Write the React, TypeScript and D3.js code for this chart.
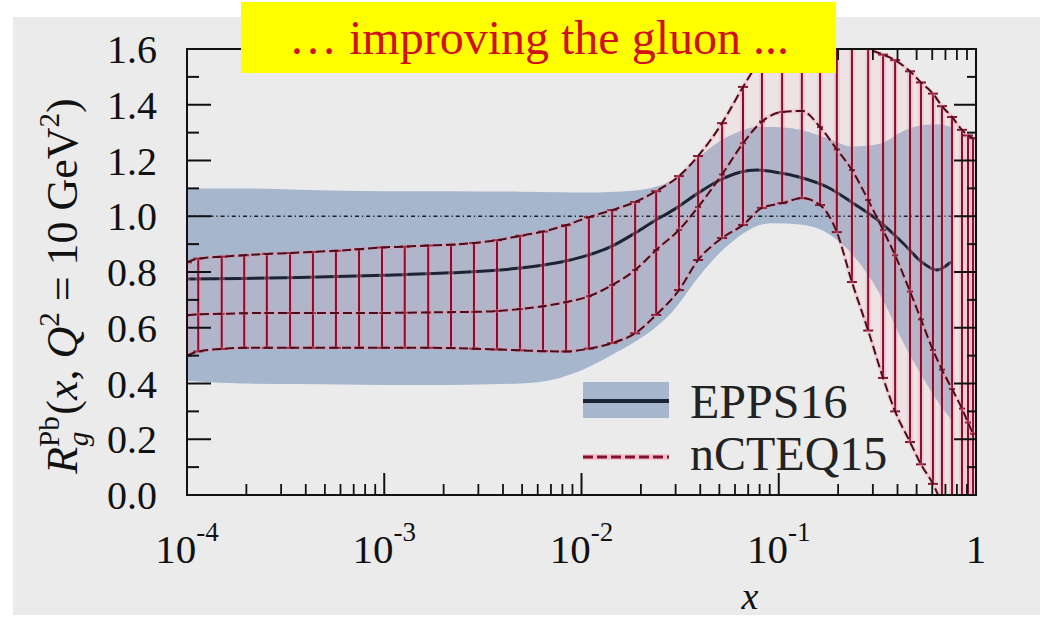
import React from "react";
import * as d3 from "d3";

// ---------------- DATA ----------------
// EPPS16 (central + uncertainty band)
const eppsX = [1e-4, 1.9e-4, 3.7e-4, 1e-3, 2.15e-3, 4.88e-3, 7.78e-3, 1.02e-2, 1.4e-2, 1.87e-2, 2.36e-2, 2.91e-2, 3.9e-2, 5.04e-2, 6.36e-2, 7.77e-2, 9.35e-2, 0.128, 0.176, 0.238, 0.326, 0.426, 0.539, 0.634, 0.747];
const eppsCentral = [0.775, 0.777, 0.78, 0.788, 0.797, 0.814, 0.835, 0.855, 0.89, 0.94, 0.985, 1.022, 1.083, 1.13, 1.158, 1.166, 1.16, 1.14, 1.105, 1.047, 0.98, 0.904, 0.832, 0.807, 0.836];
const eppsUpper = [1.1, 1.1, 1.095, 1.09, 1.09, 1.088, 1.086, 1.085, 1.087, 1.092, 1.105, 1.13, 1.21, 1.27, 1.305, 1.32, 1.32, 1.31, 1.28, 1.25, 1.26, 1.305, 1.327, 1.33, 1.32];
const eppsLower = [0.41, 0.4, 0.398, 0.395, 0.395, 0.4, 0.42, 0.45, 0.5, 0.55, 0.6, 0.66, 0.78, 0.87, 0.93, 0.965, 0.975, 0.97, 0.94, 0.86, 0.72, 0.55, 0.42, 0.34, 0.27];

// nCTEQ15 (central + error bars)
const ncteqX = [1.0e-4, 1.14e-4, 1.5e-4, 1.95e-4, 2.54e-4, 3.33e-4, 4.35e-4, 5.69e-4, 7.45e-4, 9.74e-4, 1.27e-3, 1.67e-3, 2.18e-3, 2.85e-3, 3.73e-3, 4.88e-3, 6.38e-3, 8.35e-3, 1.09e-2, 1.43e-2, 1.87e-2, 2.39e-2, 3.12e-2, 3.9e-2, 5.16e-2, 6.59e-2, 8.22e-2, 0.104, 0.131, 0.162, 0.197, 0.235, 0.284, 0.338, 0.389, 0.463, 0.526, 0.605, 0.672, 0.756, 0.849, 0.911, 0.966];
const ncteqUpper = [0.835, 0.848, 0.855, 0.86, 0.865, 0.868, 0.872, 0.876, 0.882, 0.888, 0.891, 0.895, 0.898, 0.904, 0.914, 0.93, 0.945, 0.968, 0.997, 1.022, 1.051, 1.09, 1.144, 1.216, 1.334, 1.464, 1.57, 1.64, 1.68, 1.69, 1.67, 1.635, 1.6, 1.58, 1.56, 1.52, 1.48, 1.44, 1.395, 1.356, 1.31, 1.29, 1.28];
const ncteqCentral = [0.645, 0.648, 0.65, 0.652, 0.653, 0.653, 0.653, 0.653, 0.653, 0.653, 0.654, 0.655, 0.656, 0.657, 0.66, 0.667, 0.677, 0.692, 0.713, 0.753, 0.807, 0.879, 0.951, 1.033, 1.15, 1.262, 1.34, 1.374, 1.378, 1.32, 1.24, 1.166, 1.058, 0.95, 0.86, 0.73, 0.63, 0.52, 0.45, 0.38, 0.31, 0.26, 0.22];
const ncteqLower = [0.5, 0.515, 0.524, 0.528, 0.528, 0.528, 0.528, 0.528, 0.528, 0.528, 0.528, 0.528, 0.527, 0.525, 0.522, 0.519, 0.516, 0.515, 0.525, 0.545, 0.58, 0.646, 0.735, 0.843, 0.922, 0.969, 1.03, 1.047, 1.065, 1.04, 0.943, 0.764, 0.59, 0.42, 0.3, 0.19, 0.11, 0.04, -0.03, -0.1, -0.16, -0.2, -0.24];

const yTicks = [0, 0.2, 0.4, 0.6, 0.8, 1.0, 1.2, 1.4, 1.6];
const yTickLabels = ["0.0", "0.2", "0.4", "0.6", "0.8", "1.0", "1.2", "1.4", "1.6"];
const yMinorTicks = [0.1, 0.3, 0.5, 0.7, 0.9, 1.1, 1.3, 1.5];
const xDecades = [1e-4, 1e-3, 1e-2, 1e-1, 1];
const xDecadeExps = ["-4", "-3", "-2", "-1", ""];
const minorMultipliers = [2, 3, 4, 5, 6, 7, 8, 9];

const titleText = "… improving the gluon ...";
const seriesNames = ["EPPS16", "nCTEQ15"];

// ---------------- LAYOUT ----------------
const W = 1053, H = 620;
const PL = 187, PR = 976, PT = 49, PB = 495;
const SERIF = "'Liberation Serif', 'DejaVu Serif', serif";
const BAND = "#a6b6cc";
const EPPS_LINE = "#1c2433";
const BAR = "#82102a";
const DASH = "#4a0c18";

export default function App() {
  const x = d3.scaleLog().domain([1e-4, 1]).range([PL, PR]);
  const y = d3.scaleLinear().domain([0, 1.6]).range([PB, PT]);

  const eIdx = d3.range(eppsX.length);
  const nIdx = d3.range(ncteqX.length);

  const band = d3.area<number>()
    .x((i) => x(eppsX[i]))
    .y0((i) => y(eppsLower[i]))
    .y1((i) => y(eppsUpper[i]))
    .curve(d3.curveMonotoneX)(eIdx) as string;
  const eppsLine = d3.line<number>()
    .x((i) => x(eppsX[i]))
    .y((i) => y(eppsCentral[i]))
    .curve(d3.curveMonotoneX)(eIdx) as string;

  const nFill = d3.area<number>()
    .x((i) => x(ncteqX[i]))
    .y0((i) => y(ncteqLower[i]))
    .y1((i) => y(ncteqUpper[i]))
    .curve(d3.curveMonotoneX)(nIdx) as string;
  const mk = (arr: number[]) =>
    d3.line<number>().x((i) => x(ncteqX[i])).y((i) => y(arr[i])).curve(d3.curveMonotoneX)(nIdx) as string;
  const nUp = mk(ncteqUpper), nMid = mk(ncteqCentral), nLo = mk(ncteqLower);

  const minorX = xDecades.slice(0, 4).flatMap((d) => minorMultipliers.map((k) => d * k));
  const MAJ = 22, MIN = 11;

  return (
    <svg width={W} height={H} style={{ position: "absolute", left: 0, top: 0 }} xmlns="http://www.w3.org/2000/svg">
      <defs>
        <clipPath id="plotclip">
          <rect x={PL} y={PT} width={PR - PL} height={PB - PT} />
        </clipPath>
      </defs>
      <rect x={0} y={0} width={W} height={H} fill="#ffffff" />
      <rect x={13} y={17} width={1027} height={598} fill="#ebebeb" />

      <g clipPath="url(#plotclip)">
        <path d={band} fill={BAND} />
        <path d={nFill} fill="rgba(255,175,195,0.13)" />
        <line x1={PL} x2={PR} y1={y(1)} y2={y(1)} stroke="#20202a" strokeWidth={1.6} strokeDasharray="4,3,1.2,3" />
        <path d={eppsLine} fill="none" stroke={EPPS_LINE} strokeWidth={3} />
        {nIdx.map((i) => {
          const cx = x(ncteqX[i]);
          return (
            <line key={i} x1={cx} x2={cx} y1={y(ncteqLower[i])} y2={y(ncteqUpper[i])} stroke="rgba(255,150,175,0.3)" strokeWidth={6} />
          );
        })}
        {nIdx.map((i) => {
          const cx = x(ncteqX[i]);
          return (
            <g key={i} stroke={BAR}>
              <line x1={cx} x2={cx} y1={y(ncteqLower[i])} y2={y(ncteqUpper[i])} strokeWidth={2} />
              <line x1={cx - 5} x2={cx + 5} y1={y(ncteqUpper[i])} y2={y(ncteqUpper[i])} strokeWidth={2} />
              <line x1={cx - 5} x2={cx + 5} y1={y(ncteqLower[i])} y2={y(ncteqLower[i])} strokeWidth={2} />
              <line x1={cx - 3} x2={cx + 3} y1={y(ncteqCentral[i])} y2={y(ncteqCentral[i])} strokeWidth={2} />
            </g>
          );
        })}
        {[nUp, nMid, nLo].map((d, k) => (
          <g key={k}>
            <path d={d} fill="none" stroke="rgba(255,130,160,0.25)" strokeWidth={4} />
            <path d={d} fill="none" stroke={DASH} strokeWidth={2} strokeDasharray="9,4" />
          </g>
        ))}
      </g>

      {/* frame */}
      <rect x={PL} y={PT} width={PR - PL} height={PB - PT} fill="none" stroke="#111" strokeWidth={2} />
      {/* y ticks */}
      {yTicks.map((v) => (
        <g key={"yt" + v} stroke="#111" strokeWidth={2}>
          <line x1={PL} x2={PL + MAJ + 2} y1={y(v)} y2={y(v)} />
          <line x1={PR} x2={PR - MAJ} y1={y(v)} y2={y(v)} />
        </g>
      ))}
      {yMinorTicks.map((v) => (
        <g key={"ym" + v} stroke="#111" strokeWidth={2}>
          <line x1={PL} x2={PL + MIN + 1} y1={y(v)} y2={y(v)} />
          <line x1={PR} x2={PR - MIN + 2} y1={y(v)} y2={y(v)} />
        </g>
      ))}
      {/* x ticks */}
      {xDecades.map((v) => (
        <g key={"xt" + v} stroke="#111" strokeWidth={2}>
          <line x1={x(v)} x2={x(v)} y1={PB} y2={PB - MAJ} />
          <line x1={x(v)} x2={x(v)} y1={PT} y2={PT + MAJ} />
        </g>
      ))}
      {minorX.map((v) => (
        <g key={"xm" + v} stroke="#111" strokeWidth={1.8}>
          <line x1={x(v)} x2={x(v)} y1={PB} y2={PB - MIN} />
          <line x1={x(v)} x2={x(v)} y1={PT} y2={PT + MIN} />
        </g>
      ))}

      {/* y tick labels */}
      {yTicks.map((v, i) => (
        <text key={"yl" + v} x={157} y={y(v) + 14} textAnchor="end" fontFamily={SERIF} fontSize={40} fill="#111">
          {yTickLabels[i]}
        </text>
      ))}
      {/* x tick labels */}
      {xDecades.map((v, i) => (
        <text key={"xl" + v} x={x(v)} y={563} textAnchor="middle" fontFamily={SERIF} fontSize={41} fill="#111">
          {xDecadeExps[i] === "" ? "1" : (
            <>
              <tspan>10</tspan>
              <tspan fontSize={27} dy={-22}>{xDecadeExps[i]}</tspan>
            </>
          )}
        </text>
      ))}
      {/* x axis label */}
      <text x={750} y={609} textAnchor="middle" fontFamily={SERIF} fontStyle="italic" fontSize={38} fill="#111">x</text>
      {/* y axis label */}
      <text transform="translate(77,286) rotate(-90)" textAnchor="middle" fontFamily={SERIF} fontSize={44} fill="#111">
        <tspan fontStyle="italic">R</tspan>
        <tspan fontSize={29} dy={-18}>Pb</tspan>
        <tspan fontSize={29} fontStyle="italic" dx={-30} dy={29}>g</tspan>
        <tspan dx={17} dy={-11}>(</tspan>
        <tspan fontStyle="italic">x</tspan>
        <tspan>, </tspan>
        <tspan fontStyle="italic">Q</tspan>
        <tspan fontSize={29} dy={-18}>2</tspan>
        <tspan dy={18}> = 10 GeV</tspan>
        <tspan fontSize={29} dy={-18}>2</tspan>
        <tspan dy={18}>)</tspan>
      </text>

      {/* legend */}
      <rect x={583} y={382} width={86} height={36} fill={BAND} />
      <line x1={583} x2={669} y1={401} y2={401} stroke={EPPS_LINE} strokeWidth={4} />
      <text x={690} y={418} fontFamily={SERIF} fontSize={48} fill="#222">{seriesNames[0]}</text>
      <line x1={583} x2={669} y1={457} y2={457} stroke="rgba(255,120,150,0.35)" strokeWidth={6} />
      <line x1={583} x2={669} y1={457} y2={457} stroke={BAR} strokeWidth={3} strokeDasharray="10,4" />
      <text x={690} y={470} fontFamily={SERIF} fontSize={48} fill="#222">{seriesNames[1]}</text>

      {/* title box */}
      <rect x={241} y={2} width={595} height={71} fill="#ffff00" />
      <text x={539} y={54} textAnchor="middle" fontFamily={SERIF} fontSize={48} fill="#d0101a">{titleText}</text>
    </svg>
  );
}
